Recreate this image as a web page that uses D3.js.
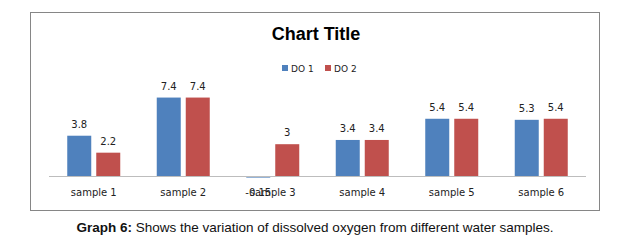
<!DOCTYPE html>
<html>
  <head>
    <meta charset="utf-8">
    <title>Graph 6</title>
    <style>
      body { margin: 0; background: #fff; }
      svg { display: block; }
    </style>
  </head>
  <body>
    <svg width="630" height="247"></svg>
  </body>
  <script src="https://cdn.jsdelivr.net/npm/d3@7/dist/d3.min.js"></script>
  <script type="text/javascript">
  const samples = ['sample 1', 'sample 2', 'sample 3', 'sample 4', 'sample 5', 'sample 6'];
  const seriesNames = ['DO 1', 'DO 2'];
  const do1 = [3.8, 7.4, -0.15, 3.4, 5.4, 5.3];
  const do2 = [2.2, 7.4, 3, 3.4, 5.4, 5.4];
  const colors = ['#4f81bd', '#c0504d'];

  const svg = d3.select('svg');

  // outer chart frame
  svg.append('rect')
    .attr('x', 30.5).attr('y', 12.5)
    .attr('width', 569).attr('height', 198)
    .attr('fill', '#fff')
    .attr('stroke', '#868686');

  svg.append('text')
    .attr('x', 316).attr('y', 40)
    .attr('text-anchor', 'middle')
    .style('font-family', 'Liberation Sans, Arial, sans-serif')
    .style('font-weight', 'bold')
    .style('font-size', '18px')
    .text('Chart Title');

  const x0 = d3.scaleBand().domain(samples).range([49, 586]);
  const x1 = d3.scaleBand().domain(seriesNames).range([0, 53]).paddingInner(5 / 29);
  const off = (x0.bandwidth() - 53) / 2;
  const y = d3.scaleLinear().domain([0, 8]).range([176, 176 - 84.8]);

  // legend
  const legend = svg.append('g');
  const lx = [282, 325];
  seriesNames.forEach(function(s, i) {
    legend.append('rect')
      .attr('x', lx[i]).attr('y', 65)
      .attr('width', 6).attr('height', 6)
      .attr('fill', colors[i]);
    legend.append('text')
      .attr('x', lx[i] + 9).attr('y', 71.5)
      .style('font-family', 'DejaVu Sans, sans-serif')
      .style('font-size', '9px')
      .attr('fill', '#222')
      .text(s);
  });

  const rows = samples.map(function(d, i) {
    return { sample: d, vals: [do1[i], do2[i]] };
  });

  const groups = svg.selectAll('g.grp').data(rows).enter().append('g')
    .attr('class', 'grp')
    .attr('transform', function(d) { return 'translate(' + (x0(d.sample) + off) + ',0)'; });

  const bars = groups.selectAll('g.bar')
    .data(function(d) { return d.vals.map(function(v, i) { return { name: seriesNames[i], v: v, i: i }; }); })
    .enter().append('g').attr('class', 'bar');

  bars.append('rect')
    .attr('x', function(d) { return x1(d.name); })
    .attr('y', function(d) { return Math.min(y(d.v), y(0)); })
    .attr('width', x1.bandwidth())
    .attr('height', function(d) { return Math.max(Math.abs(y(d.v) - y(0)), 0); })
    .attr('fill', function(d) { return colors[d.i]; });

  // axis line
  svg.append('line')
    .attr('x1', 49).attr('x2', 586)
    .attr('y1', 176.5).attr('y2', 176.5)
    .attr('stroke', '#bdbdbd');

  // category labels
  svg.selectAll('text.cat').data(samples).enter().append('text')
    .attr('class', 'cat')
    .attr('x', function(d) { return x0(d) + x0.bandwidth() / 2; })
    .attr('y', 196)
    .attr('text-anchor', 'middle')
    .style('font-family', 'DejaVu Sans, sans-serif')
    .style('font-size', '10px')
    .attr('fill', '#222')
    .text(function(d) { return d; });

  // value labels (the negative one sits on the category label, as in the original)
  bars.append('text')
    .attr('x', function(d) { return x1(d.name) + x1.bandwidth() / 2; })
    .attr('y', function(d) { return d.v >= 0 ? y(d.v) - 8 : y(d.v) + 18; })
    .attr('text-anchor', 'middle')
    .style('font-family', 'DejaVu Sans, sans-serif')
    .style('font-size', '10px')
    .attr('fill', '#222')
    .text(function(d) { return d.v; });

  // caption
  const cap = svg.append('text')
    .attr('x', 315).attr('y', 232)
    .attr('text-anchor', 'middle')
    .style('font-family', 'Liberation Sans, Arial, sans-serif')
    .style('font-size', '13.5px')
    .attr('fill', '#111');
  cap.append('tspan').style('font-weight', 'bold').text('Graph 6:');
  cap.append('tspan').text(' Shows the variation of dissolved oxygen from different water samples.');
  </script>
</html>
